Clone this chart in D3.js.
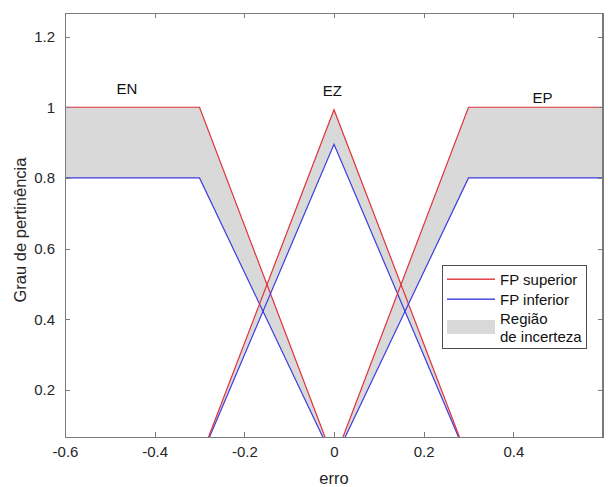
<!DOCTYPE html>
<meta charset="utf-8">
<style>
body { margin: 0; background: #fff; }
svg { font-family: "Liberation Sans", Arial, sans-serif; }
.axis path, .axis line { fill: none; stroke: #7a7a7a; stroke-width: 1; shape-rendering: crispEdges; }
.axis text { fill: #262626; font-size: 15px; }
.up { fill: none; stroke: #e0323a; stroke-width: 1.2; }
.lo { fill: none; stroke: #3d3de0; stroke-width: 1.2; }
</style>
<body>
<script src="https://cdn.jsdelivr.net/npm/d3@7"></script>
<script>

// membership functions: x breakpoints, upper and lower degrees
var enX = [-0.6, -0.3, 0],   enUpper = [1, 1, 0],    enLower = [0.8, 0.8, 0];
var ezX = [-0.3, 0, 0.3],    ezUpper = [0, 0.993, 0], ezLower = [0, 0.895, 0];
var epX = [0, 0.3, 0.6],     epUpper = [0, 1, 1],    epLower = [0, 0.8, 0.8];

var mfNames = ["EN", "EZ", "EP"];
var nameX = [-0.485, -0.025, 0.443];
var nameY = [1.052, 1.047, 1.028];

var xTicks = [-0.6, -0.4, -0.2, 0, 0.2, 0.4];
var xTickLabels = ["-0.6", "-0.4", "-0.2", "0", "0.2", "0.4"];
var yTicks = [0.2, 0.4, 0.6, 0.8, 1, 1.2];
var yTickLabels = ["0.2", "0.4", "0.6", "0.8", "1", "1.2"];

var legendLabels = ["FP superior", "FP inferior", ["Região", "de incerteza"]];

var W = 608, H = 487;
var m = { left: 65, right: 603, top: 13, bottom: 437 };

var x = d3.scaleLinear().domain([-0.6, 0.6]).range([m.left, m.right]);
var y = d3.scaleLinear().domain([0.0667, 1.2667]).range([m.bottom, m.top]);

var svg = d3.select("body").append("svg")
  .attr("width", W)
  .attr("height", H);

svg.append("defs").append("clipPath").attr("id", "plotclip")
  .append("rect")
    .attr("x", m.left).attr("y", m.top)
    .attr("width", m.right - m.left).attr("height", m.bottom - m.top);

var mfs = [
  { xs: enX, up: enUpper, lo: enLower },
  { xs: ezX, up: ezUpper, lo: ezLower },
  { xs: epX, up: epUpper, lo: epLower }
];

var plot = svg.append("g").attr("clip-path", "url(#plotclip)");

var line = d3.line()
  .x(function(d) { return x(d[0]); })
  .y(function(d) { return y(d[1]); });

// uncertainty region
mfs.forEach(function(mf) {
  var upPts = mf.xs.map(function(v, i) { return [v, mf.up[i]]; });
  var loPts = mf.xs.map(function(v, i) { return [v, mf.lo[i]]; }).reverse();
  plot.append("path")
    .attr("d", line(upPts.concat(loPts)) + "Z")
    .attr("fill", "#d9d9d9")
    .attr("stroke", "none");
});

mfs.forEach(function(mf) {
  plot.append("path")
    .attr("class", "lo")
    .attr("d", line(mf.xs.map(function(v, i) { return [v, mf.lo[i]]; })));
  plot.append("path")
    .attr("class", "up")
    .attr("d", line(mf.xs.map(function(v, i) { return [v, mf.up[i]]; })));
});

// axes (box with inward ticks)
svg.append("g")
  .attr("class", "axis")
  .attr("transform", "translate(0," + m.bottom + ")")
  .call(d3.axisBottom(x).tickValues(xTicks)
    .tickFormat(function(d, i) { return xTickLabels[i]; })
    .tickSizeInner(-5).tickSizeOuter(0).tickPadding(9));

svg.append("g")
  .attr("class", "axis")
  .attr("transform", "translate(0," + m.top + ")")
  .call(d3.axisTop(x).tickValues(xTicks).tickFormat("")
    .tickSizeInner(-5).tickSizeOuter(0));

svg.append("g")
  .attr("class", "axis")
  .attr("transform", "translate(" + m.left + ",0)")
  .call(d3.axisLeft(y).tickValues(yTicks)
    .tickFormat(function(d, i) { return yTickLabels[i]; })
    .tickSizeInner(-5).tickSizeOuter(0).tickPadding(10));

svg.append("g")
  .attr("class", "axis")
  .attr("transform", "translate(" + m.right + ",0)")
  .call(d3.axisRight(y).tickValues(yTicks).tickFormat("")
    .tickSizeInner(-5).tickSizeOuter(0));

svg.append("rect")
  .attr("x", m.left + 0.5).attr("y", m.top + 0.5)
  .attr("width", m.right - m.left - 1).attr("height", m.bottom - m.top)
  .attr("fill", "none")
  .attr("stroke", "#7a7a7a");

// MF names
svg.selectAll(".mfname")
  .data(mfNames)
  .enter().append("text")
    .attr("class", "mfname")
    .attr("x", function(d, i) { return x(nameX[i]); })
    .attr("y", function(d, i) { return y(nameY[i]); })
    .attr("dy", "0.35em")
    .attr("font-size", 15)
    .attr("fill", "#111")
    .text(function(d) { return d; });

// axis labels
svg.append("text")
  .attr("x", (m.left + m.right) / 2)
  .attr("y", 478)
  .attr("dy", "0.35em")
  .attr("text-anchor", "middle")
  .attr("font-size", 16.5)
  .attr("fill", "#262626")
  .text("erro");

svg.append("text")
  .attr("transform", "translate(20,230) rotate(-90)")
  .attr("dy", "0.35em")
  .attr("text-anchor", "middle")
  .attr("font-size", 16.5)
  .attr("fill", "#262626")
  .text("Grau de pertinência");

// legend
var lg = svg.append("g").attr("transform", "translate(442,265)");
lg.append("rect")
  .attr("x", 0.5).attr("y", 0.5)
  .attr("width", 144).attr("height", 83)
  .attr("fill", "#fff")
  .attr("stroke", "#4d4d4d");

lg.append("rect")
  .attr("x", 5).attr("y", 13.5)
  .attr("width", 48).attr("height", 1.4)
  .attr("fill", "#e0323a");
lg.append("rect")
  .attr("x", 5).attr("y", 33.5)
  .attr("width", 48).attr("height", 1.4)
  .attr("fill", "#3d3de0");
lg.append("rect")
  .attr("x", 5).attr("y", 55)
  .attr("width", 48).attr("height", 14)
  .attr("fill", "#d9d9d9");

var legendRows = [14.5, 34.5, 54];
legendLabels.forEach(function(lab, i) {
  var t = lg.append("text")
    .attr("x", 58)
    .attr("y", legendRows[i])
    .attr("font-size", 15)
    .attr("fill", "#111");
  if (Array.isArray(lab)) {
    lab.forEach(function(s, j) {
      t.append("tspan").attr("x", 58).attr("dy", j === 0 ? "0.35em" : "1.2em").text(s);
    });
  } else {
    t.attr("dy", "0.35em").text(lab);
  }
});

</script>
</body>
